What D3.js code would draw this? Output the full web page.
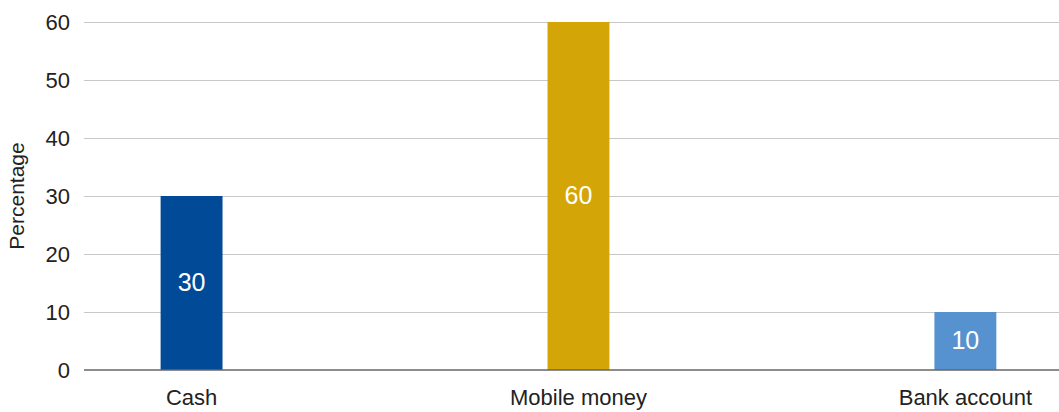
<!DOCTYPE html>
<html>
<head>
<meta charset="utf-8">
<script src="https://cdn.jsdelivr.net/npm/d3@7"></script>
<style>
  body { margin: 0; background: #fff; }
  text { font-family: "Liberation Sans", Arial, sans-serif; }
</style>
</head>
<body>
<svg id="chart" width="1059" height="412"></svg>
<script>
// Data
const categories = ["Cash", "Mobile money", "Bank account"];
const values = [30, 60, 10];
const barColors = ["#004a98", "#d4a506", "#5592cf"];
const yTicks = [0, 10, 20, 30, 40, 50, 60];

const width = 1059, height = 412;
const margin = { top: 22, right: 0, bottom: 42, left: 84 };

const svg = d3.select("#chart");

// Scales
const x = d3.scaleBand()
    .domain(categories)
    .range([margin.left, width - margin.right])
    .paddingInner(0.84)
    .paddingOuter(0.18)
    .align(0.55);

const y = d3.scaleLinear()
    .domain([0, 60])
    .range([height - margin.bottom, margin.top]);

// Gridlines
svg.append("g")
    .selectAll("line")
    .data(yTicks.filter(d => d > 0))
    .join("line")
    .attr("x1", margin.left)
    .attr("x2", width)
    .attr("y1", d => Math.round(y(d)) + 0.5)
    .attr("y2", d => Math.round(y(d)) + 0.5)
    .attr("stroke", "#c8c8c8")
    .attr("stroke-width", 1.2);

// Tick labels
svg.append("g")
    .selectAll("text")
    .data(yTicks)
    .join("text")
    .attr("x", 70)
    .attr("y", d => y(d))
    .attr("dy", "0.35em")
    .attr("text-anchor", "end")
    .attr("font-size", 22)
    .attr("fill", "#222")
    .text(d => d);

// Bars
svg.append("g")
    .selectAll("rect")
    .data(values)
    .join("rect")
    .attr("x", (d, i) => x(categories[i]))
    .attr("width", x.bandwidth())
    .attr("y", d => y(d))
    .attr("height", d => y(0) - y(d))
    .attr("fill", (d, i) => barColors[i]);

// Value labels inside bars
svg.append("g")
    .selectAll("text")
    .data(values)
    .join("text")
    .attr("x", (d, i) => x(categories[i]) + x.bandwidth() / 2)
    .attr("y", d => (y(d) + y(0)) / 2 - 1)
    .attr("dy", "0.35em")
    .attr("text-anchor", "middle")
    .attr("font-size", 25)
    .attr("fill", "#fff")
    .text(d => d);

// Baseline
svg.append("line")
    .attr("x1", margin.left)
    .attr("x2", width)
    .attr("y1", y(0))
    .attr("y2", y(0))
    .attr("stroke", "#666")
    .attr("stroke-width", 1.5);

// Category labels
svg.append("g")
    .selectAll("text")
    .data(categories)
    .join("text")
    .attr("x", d => x(d) + x.bandwidth() / 2)
    .attr("y", 405)
    .attr("text-anchor", "middle")
    .attr("font-size", 22)
    .attr("fill", "#222")
    .text(d => d);

// Y axis title
svg.append("text")
    .attr("transform", "translate(24," + 196 + ") rotate(-90)")
    .attr("text-anchor", "middle")
    .attr("font-size", 21)
    .attr("fill", "#222")
    .text("Percentage");
</script>
</body>
</html>
